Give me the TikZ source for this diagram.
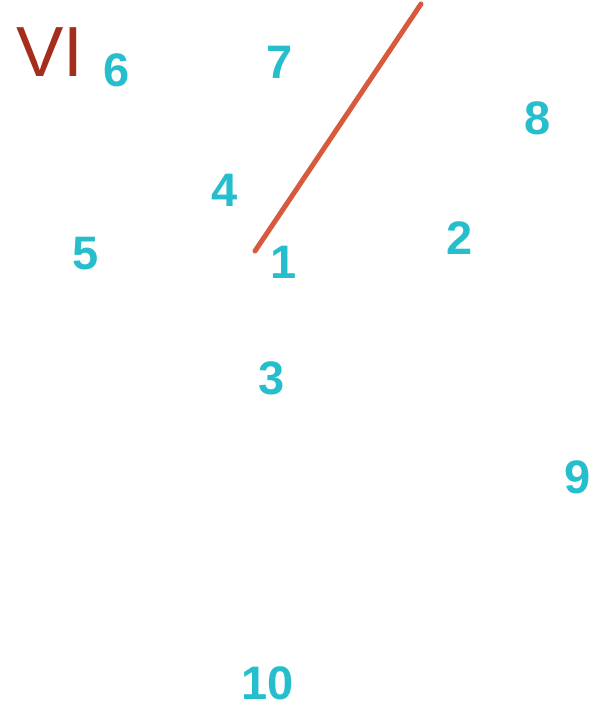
\documentclass[tikz,border=0pt]{standalone}
\usepackage{fontspec}
\setmainfont{Liberation Sans}
\definecolor{numc}{RGB}{38,190,205}
\definecolor{vic}{RGB}{165,45,30}
\definecolor{linec}{RGB}{215,90,60}
\begin{document}
\begin{tikzpicture}[x=1pt,y=-1pt,
  num/.style={text=numc,font=\fontsize{47}{47}\selectfont\bfseries,inner sep=0pt,anchor=center},
  roman/.style={text=vic,font=\fontsize{71}{71}\selectfont,inner sep=0pt,anchor=center}]
\useasboundingbox (0,0) rectangle (606,713);
\node[roman] (vi) at (50,52) {VI};
\node[num] (n6) at (117,70) {6};
\node[num] (n7) at (280,62) {7};
\node[num] (n8) at (538,118) {8};
\node[num] (n4) at (225,190) {4};
\node[num] (n5) at (86,254) {5};
\node[num] (n1) at (284,262) {1};
\node[num] (n2) at (460,238) {2};
\node[num] (n3) at (272,378) {3};
\node[num] (n9) at (578,477) {9};
\node[num] (n10) at (268,683) {10};
\coordinate (la) at (255,251);
\coordinate (lb) at (421,4);
\draw[linec,line width=5pt,line cap=round] (la) -- (lb);
\end{tikzpicture}
\end{document}
